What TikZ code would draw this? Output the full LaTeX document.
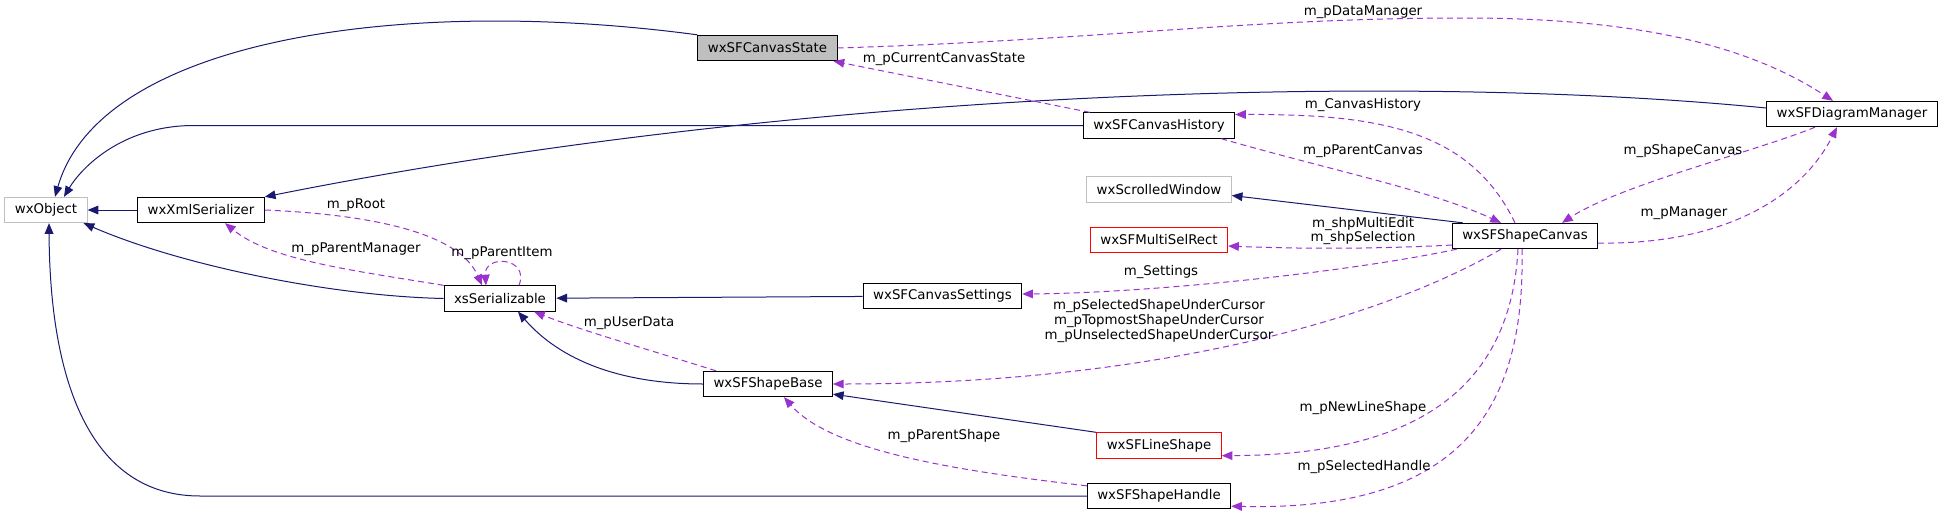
\documentclass[tikz,border=0pt]{standalone}
\usepackage{fontspec}
\setmainfont{DejaVu Sans}
\usetikzlibrary{arrows.meta, calc}
\definecolor{dxblue}{HTML}{191970}
\definecolor{dxpurple}{HTML}{9A32CD}
\definecolor{dxgray}{HTML}{BFBFBF}
\definecolor{dxred}{HTML}{FF0000}

\begin{document}
\begin{tikzpicture}[x=0.75pt, y=-0.75pt, font=\fontsize{10}{11}\selectfont,
    cls/.style={draw=black, line width=0.75pt, inner xsep=7.5pt, inner ysep=0pt, minimum height=19pt},
    gcls/.style={cls, draw=dxgray},
    rcls/.style={cls, draw=dxred},
    inh/.style={dxblue, line width=0.75pt, -{Triangle[length=8pt, width=6.5pt]}},
    usage/.style={dxpurple, line width=0.75pt, dash pattern=on 4.5pt off 3pt, -{Triangle[length=8pt, width=6.5pt]}},
    lbl/.style={align=center, inner sep=0pt}]
  \useasboundingbox (0,0) rectangle (1943,518);
  % kelas
  \node[gcls] (obj) at (46,210) {wxObject};
  \node[cls] (xmlser) at (201,210) {wxXmlSerializer};
  \node[cls] (xsser) at (500,298.5) {xsSerializable};
  \node[cls, fill=dxgray] (cstate) at (767.5,48) {wxSFCanvasState};
  \node[cls] (chist) at (1159,125.5) {wxSFCanvasHistory};
  \node[gcls] (swin) at (1159,189.5) {wxScrolledWindow};
  \node[rcls] (msel) at (1159,240) {wxSFMultiSelRect};
  \node[cls] (csett) at (942.5,296) {wxSFCanvasSettings};
  \node[cls] (sbase) at (768,384) {wxSFShapeBase};
  \node[rcls] (lshape) at (1159,445.5) {wxSFLineShape};
  \node[cls] (shandle) at (1159,496) {wxSFShapeHandle};
  \node[cls] (dmgr) at (1852,114) {wxSFDiagramManager};
  \node[cls] (scanvas) at (1525,236) {wxSFShapeCanvas};
  % pewarisan
  \draw[inh] (cstate.north west) .. controls (400,-5) and (100,40) .. ($(obj.north)+(9,0)$);
  \draw[inh] (chist.west) -- (194,125.5) .. controls (120,125.5) and (80,170) .. ($(obj.north)+(18,0)$);
  \draw[inh] ($(dmgr.west)+(0,-6)$) .. controls (1400,72) and (800,90) .. (xmlser.north east);
  \draw[inh] (xmlser) -- (obj);
  \draw[inh] (xsser.west) .. controls (330,296) and (180,265) .. ($(obj.south east)+(-4,0)$);
  \draw[inh] (csett) -- (xsser);
  \draw[inh] (sbase.west) .. controls (620,384) and (560,360) .. ($(xsser.south)+(18,0)$);
  \draw[inh] (lshape.north west) -- ($(sbase.south east)+(0,-3)$);
  \draw[inh] (shandle.west) -- (200,496) .. controls (100,496) and (50,400) .. ($(obj.south)+(3,0)$);
  \draw[inh] ($(scanvas.north west)+(11,0)$) -- ($(swin.east)+(0,6)$);
  % relasi
  \draw[usage] (cstate.east) .. controls (1100,40) and (1250,18) .. (1464,18)
    .. controls (1620,18) and (1740,40) .. ($(dmgr.north)+(-19,0)$);
  \node[lbl] (lDataMgr) at (1363,12) {m\_pDataManager};
  \draw[usage] ($(chist.north west)+(7,0)$) -- ($(cstate.south east)+(-4,0)$);
  \node[lbl] (lCurState) at (944,59) {m\_pCurrentCanvasState};
  \draw[usage] ($(scanvas.north)+(-10,0)$) .. controls (1470,130) and (1380,114) .. ($(chist.east)+(0,-11)$);
  \node[lbl] (lHistory) at (1363,105) {m\_CanvasHistory};
  \draw[usage] ($(chist.south east)+(-14,0)$) .. controls (1330,170) and (1430,190) .. ($(scanvas.north)+(-24,0)$);
  \node[lbl] (lParCanvas) at (1363,151) {m\_pParentCanvas};
  \draw[usage] ($(dmgr.south)+(-37,0)$) .. controls (1760,150) and (1620,185) .. ($(scanvas.north)+(37,0)$);
  \node[lbl] (lShpCanvas) at (1683,151) {m\_pShapeCanvas};
  \draw[usage] ($(scanvas.east)+(0,7)$) .. controls (1720,245) and (1800,200) .. ($(dmgr.south)+(-15,0)$);
  \node[lbl] (lManager) at (1684,213) {m\_pManager};
  \draw[usage] ($(scanvas.west)+(0,9)$) .. controls (1380,249) and (1300,249) .. ($(msel.east)+(0,6)$);
  \node[lbl] (lMultiSel) at (1363,231) {m\_shpMultiEdit\\m\_shpSelection};
  \draw[usage] ($(scanvas.south west)+(5,0)$) .. controls (1350,272) and (1150,293) .. ($(csett.east)+(0,-2)$);
  \node[lbl] (lSettings) at (1161,272) {m\_Settings};
  \draw[usage] ($(scanvas.south)+(-24,0)$) .. controls (1380,320) and (1150,384) .. (sbase.east);
  \node[lbl] (lCursor) at (1159,321) {m\_pSelectedShapeUnderCursor\\m\_pTopmostShapeUnderCursor\\m\_pUnselectedShapeUnderCursor};
  \draw[usage] ($(scanvas.south)+(-7,0)$) .. controls (1510,400) and (1400,455) .. ($(lshape.south east)+(0,-3)$);
  \node[lbl] (lNewLine) at (1363,408) {m\_pNewLineShape};
  \draw[usage] ($(scanvas.south)+(-3,0)$) .. controls (1525,400) and (1470,512) .. ($(shandle.south east)+(0,-3)$);
  \node[lbl] (lSelHandle) at (1364,467) {m\_pSelectedHandle};
  \draw[usage] (xmlser.east) .. controls (380,215) and (460,235) .. ($(xsser.north)+(-18,0)$);
  \node[lbl] (lRoot) at (356,205) {m\_pRoot};
  \draw[usage] (xsser.north west) .. controls (350,270) and (270,260) .. ($(xmlser.south)+(24,0)$);
  \node[lbl] (lParMgr) at (356,249) {m\_pParentManager};
  \draw[usage] ($(xsser.north)+(19,0)$) .. controls (530,257) and (484,254) .. ($(xsser.north)+(-14,0)$);
  \node[lbl] (lParItem) at (502,253) {m\_pParentItem};
  \draw[usage] ($(sbase.north west)+(13,0)$) .. controls (650,350) and (580,330) .. ($(xsser.south)+(34,0)$);
  \node[lbl] (lUserData) at (629,323) {m\_pUserData};
  \draw[usage] ($(shandle.north west)+(0,3)$) .. controls (950,470) and (830,450) .. ($(sbase.south)+(16,0)$);
  \node[lbl] (lParShape) at (944,436) {m\_pParentShape};
\end{tikzpicture}
\end{document}
